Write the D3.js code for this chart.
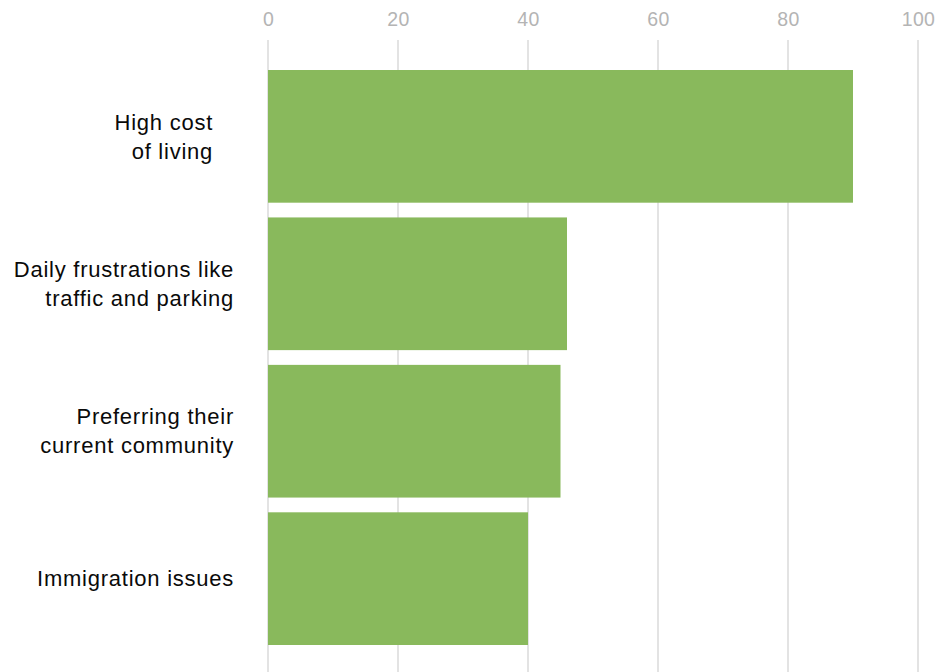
<!DOCTYPE html>
<html>
<head>
<meta charset="utf-8">
<script src="https://cdn.jsdelivr.net/npm/d3@7"></script>
<style>
  html, body { margin: 0; padding: 0; background: #fff; }
  svg { display: block; font-family: "Liberation Sans", Arial, Helvetica, sans-serif; }
</style>
</head>
<body>
<svg id="chart" width="937" height="672"></svg>
<script>
// Reasons given, one entry per bar (each label split into its display lines)
const categories = [
  ["High cost", "of living"],
  ["Daily frustrations like", "traffic and parking"],
  ["Preferring their", "current community"],
  ["Immigration issues"]
];
const values = [90, 46, 45, 40];
const tickValues = [0, 20, 40, 60, 80, 100];

const svg = d3.select("#chart");
const width = 937, height = 672;

const x = d3.scaleLinear().domain([0, 100]).range([268, 918]);
const y = d3.scaleBand()
  .domain(d3.range(categories.length))
  .range([70, 645])
  .paddingInner(0.1)
  .paddingOuter(0);

// Vertical gridlines and top tick labels
const axis = d3.axisTop(x).tickValues(tickValues).tickSize(0).tickPadding(0);
const gAxis = svg.append("g").attr("transform", "translate(0,26)").call(axis);
gAxis.select(".domain").remove();
gAxis.selectAll("text")
  .attr("fill", "#b4b4b4")
  .attr("font-size", 19.5)
  .attr("letter-spacing", 0.3)
  .attr("dy", 0)
  .style("font-family", "'Liberation Sans', Arial, sans-serif");

svg.append("g")
  .selectAll("line")
  .data(tickValues)
  .join("line")
  .attr("x1", d => x(d)).attr("x2", d => x(d))
  .attr("y1", 40).attr("y2", height)
  .attr("stroke", "#dadada")
  .attr("stroke-width", 1.5);

// Bars
svg.append("g")
  .selectAll("rect")
  .data(values)
  .join("rect")
  .attr("x", x(0))
  .attr("y", (d, i) => y(i))
  .attr("width", d => x(d) - x(0))
  .attr("height", y.bandwidth())
  .attr("fill", "#89b95c");

// Category labels, right aligned beside the bars
const lineHeight = 29;
const labelRight = (i) => i === 0 ? 213 : 234;
const labels = svg.append("g")
  .selectAll("text")
  .data(categories)
  .join("text")
  .attr("text-anchor", "end")
  .attr("font-size", 22)
  .attr("letter-spacing", 0.75)
  .attr("fill", "#0a0a0a");

labels.each(function (lines, i) {
  const cy = y(i) + y.bandwidth() / 2;
  const top = cy - (lines.length - 1) * lineHeight / 2;
  d3.select(this).selectAll("tspan")
    .data(lines)
    .join("tspan")
    .attr("x", labelRight(i))
    .attr("y", (d, j) => top + j * lineHeight)
    .attr("dy", "0.35em")
    .text(d => d);
});
</script>
</body>
</html>
